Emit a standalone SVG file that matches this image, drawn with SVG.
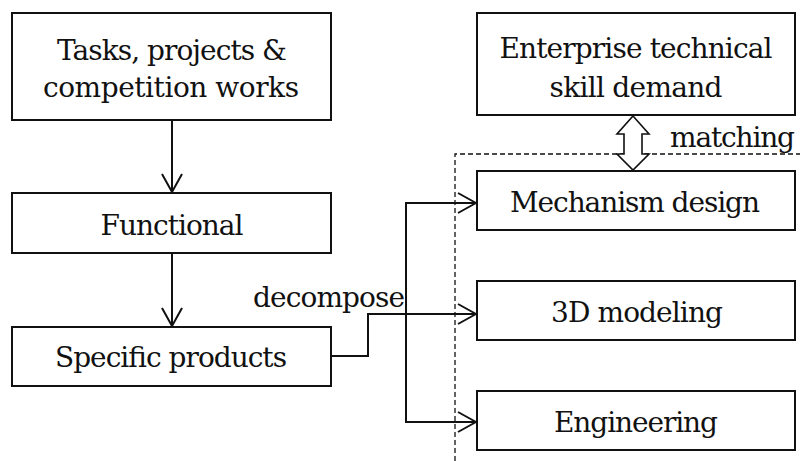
<svg xmlns="http://www.w3.org/2000/svg" width="800" height="461" viewBox="0 0 800 461">
  <defs>
    <style>
      .box { fill: #fff; stroke: #111; stroke-width: 2; }
      .lbl { font-family: "DejaVu Serif", "Liberation Serif", serif; font-size: 28px; fill: #111; text-anchor: middle; }
      .free { font-family: "DejaVu Serif", "Liberation Serif", serif; font-size: 28px; fill: #111; }
      .wire { fill: none; stroke: #111; stroke-width: 2; }
      .dash { fill: none; stroke: #111; stroke-width: 1.3; stroke-dasharray: 5 3; }
      .hollow { fill: #fff; stroke: #111; stroke-width: 1.6; stroke-linejoin: miter; }
    </style>
    <marker id="vee" viewBox="0 0 20 22" refX="19" refY="11" markerWidth="20" markerHeight="22" markerUnits="userSpaceOnUse" orient="auto">
      <path d="M1,1 L19,11 L1,21" fill="none" stroke="#111" stroke-width="2"/>
    </marker>
  </defs>

  <!-- dashed boundary around the skill modules -->
  <path class="dash" d="M455,461 V154 H800"/>

  <!-- left column -->
  <g id="tasks">
    <rect class="box" x="12" y="13" width="319" height="107"/>
    <text class="lbl" x="172" y="60" textLength="230">Tasks, projects &amp;</text>
    <text class="lbl" x="171" y="97" textLength="256">competition works</text>
  </g>
  <g id="functional">
    <rect class="box" x="12" y="193" width="319" height="60"/>
    <text class="lbl" x="172" y="235" textLength="143">Functional</text>
  </g>
  <g id="products">
    <rect class="box" x="12" y="327" width="319" height="59"/>
    <text class="lbl" x="171" y="367" textLength="232">Specific products</text>
  </g>

  <!-- right column -->
  <g id="demand">
    <rect class="box" x="477" y="13" width="318" height="102"/>
    <text class="lbl" x="636" y="58" textLength="273">Enterprise technical</text>
    <text class="lbl" x="636" y="97" textLength="173">skill demand</text>
  </g>
  <g id="mechanism">
    <rect class="box" x="477" y="171" width="318" height="59"/>
    <text class="lbl" x="635" y="212" textLength="250">Mechanism design</text>
  </g>
  <g id="modeling">
    <rect class="box" x="477" y="281" width="318" height="59"/>
    <text class="lbl" x="637" y="322" textLength="172">3D modeling</text>
  </g>
  <g id="engineering">
    <rect class="box" x="477" y="391" width="318" height="59"/>
    <text class="lbl" x="636" y="432" textLength="164">Engineering</text>
  </g>

  <!-- connectors -->
  <g id="connectors">
    <line class="wire" x1="172" y1="120" x2="172" y2="192" marker-end="url(#vee)"/>
    <line class="wire" x1="172" y1="253" x2="172" y2="326" marker-end="url(#vee)"/>
    <path class="wire" d="M331,356 H368 V314 H476" marker-end="url(#vee)"/>
    <path class="wire" d="M476,203 H406 V422 H476"/>
    <line class="wire" x1="460" y1="203" x2="476" y2="203" marker-end="url(#vee)"/>
    <line class="wire" x1="460" y1="422" x2="476" y2="422" marker-end="url(#vee)"/>
    <!-- hollow two-way arrow between demand and mechanism design -->
    <path class="hollow" d="M633,116 L649,134 H642 V154 H649 L633,170 L617,154 H624 V134 H617 Z"/>
    <text class="free" x="670" y="147" textLength="125">matching</text>
    <text class="free" x="253" y="307" textLength="152">decompose</text>
  </g>
</svg>
